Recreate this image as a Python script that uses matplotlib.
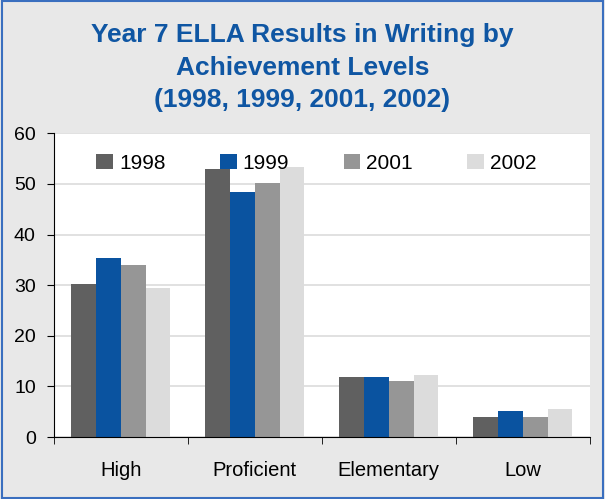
import numpy as np
import matplotlib.pyplot as plt
from matplotlib.patches import Rectangle

categories = ["High", "Proficient", "Elementary", "Low"]
years = ["1998", "1999", "2001", "2002"]
v1998 = [30.2, 52.9, 11.8, 4.0]
v1999 = [35.3, 48.3, 11.8, 5.1]
v2001 = [33.9, 50.1, 11.0, 4.0]
v2002 = [29.4, 53.3, 12.2, 5.5]
colors = ["#606060", "#0a53a0", "#969696", "#dcdcdc"]

plt.rcParams["font.family"] = ["Liberation Sans", "DejaVu Sans"]

fig = plt.figure(figsize=(6.05, 4.99), dpi=100, facecolor="#e8e8e8")
fig.patches.append(Rectangle((0.003, 0.003), 0.994, 0.994, transform=fig.transFigure,
                             fill=False, edgecolor="#3a6fbf", linewidth=1.5))
ax = fig.add_axes([0.089, 0.124, 0.886, 0.609])
ax.set_facecolor("white")

x = np.arange(len(categories))
w = 0.185
for i, (vals, yr) in enumerate(zip([v1998, v1999, v2001, v2002], years)):
    ax.bar(x + (i - 1.5) * w, vals, w, color=colors[i], label=yr, zorder=2)

ax.set_xlim(-0.5, 3.5)
ax.set_ylim(0, 60)
ax.set_yticks(range(0, 61, 10))
ax.yaxis.grid(True, color="#dcdcdc", linewidth=1.2, zorder=0)
ax.set_axisbelow(True)
ax.set_xticks(x)
ax.set_xticklabels(categories, fontsize=14.5)
ax.set_xticks(np.arange(-0.5, 4, 1), minor=True)
ax.tick_params(axis="x", which="major", length=0, pad=17)
ax.tick_params(axis="x", which="minor", length=5, direction="out")
ax.tick_params(axis="y", labelsize=14, length=5, direction="out", pad=8)
for s in ["top", "right"]:
    ax.spines[s].set_visible(False)

ax.legend(loc="upper center", ncol=4, frameon=False, fontsize=15,
          handlelength=0.8, handleheight=0.8, handletextpad=0.3,
          columnspacing=2.6, bbox_to_anchor=(0.49, 0.995))

fig.text(0.5, 0.954, "Year 7 ELLA Results in Writing by\nAchievement Levels\n(1998, 1999, 2001, 2002)",
         ha="center", va="top", fontsize=19, fontweight="bold", color="#0f56a3",
         linespacing=1.45)

fig.savefig("out.png", facecolor=fig.get_facecolor())
